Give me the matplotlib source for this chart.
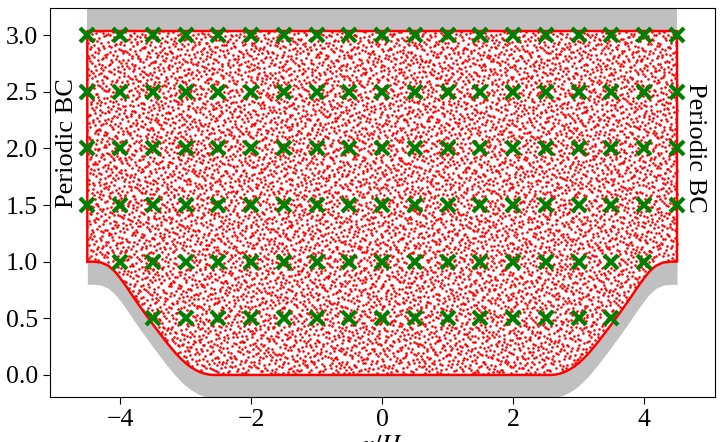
import numpy as np
import matplotlib
matplotlib.use('Agg')
import matplotlib.pyplot as plt

plt.rcParams['font.family'] = ['Liberation Serif', 'DejaVu Serif']
plt.rcParams['mathtext.fontset'] = 'stix'

# hill profile measured from the crest (x/H offset, y/H)
hill_dx = [0.0, 0.107, 0.214, 0.321, 0.393, 0.446, 0.5, 0.571, 0.643, 0.714,
           0.786, 0.857, 0.929, 1.0, 1.071, 1.143, 1.214, 1.286, 1.357, 1.429,
           1.5, 1.571, 1.643, 1.714, 1.786, 1.857, 1.929]
hill_y = [1.0, 1.0, 0.992, 0.964, 0.929, 0.896, 0.857, 0.800, 0.740, 0.679,
          0.619, 0.561, 0.504, 0.448, 0.393, 0.339, 0.285, 0.234, 0.186, 0.143,
          0.105, 0.073, 0.047, 0.026, 0.012, 0.003, 0.0]
x_left, x_right = -4.5, 4.5
y_top = 3.036
wall = 0.2

# green sensor rows: y level and half-width of the row
row_y = [0.5, 1.0, 1.5, 2.0, 2.5, 3.0]
row_half = [3.5, 4.0, 4.5, 4.5, 4.5, 4.5]
row_step = 0.5

n_points = 11000


def halton(i, base):
    f, r = 1.0, 0.0
    while i > 0:
        f /= base
        r += f * (i % base)
        i //= base
    return r


# bottom boundary: left hill, flat floor, right hill
dx = np.array(hill_dx)
hy = np.array(hill_y)
bx = np.concatenate([x_left + dx, (x_right - dx)[::-1]])
by = np.concatenate([hy, hy[::-1]])

fig = plt.figure(figsize=(7.21, 4.42), dpi=100)
ax = fig.add_axes([0.0693, 0.1018, 0.9224, 0.8802])

# grey walls
ax.fill_between(bx, by - wall, by, color='#c0c0c0', lw=0, zorder=1)
ax.fill_between([x_left, x_right], y_top, 3.5, color='#c0c0c0', lw=0, zorder=1)

# collocation points
px = np.array([halton(i, 2) for i in range(1, n_points + 1)])
py = np.array([halton(i, 3) for i in range(1, n_points + 1)])
px = x_left + px * (x_right - x_left)
py = py * y_top
keep = py > np.interp(px, bx, by) + 0.01
ax.scatter(px[keep], py[keep], s=3.6, c='red', marker='o', linewidths=0, zorder=2)

# fluid domain outline
ox = np.concatenate([bx, [x_right, x_left, x_left]])
oy = np.concatenate([by, [y_top, y_top, by[0]]])
ax.plot(ox, oy, color='red', lw=1.8, zorder=3)

# sensors
for yy, hw in zip(row_y, row_half):
    xs = np.arange(-hw, hw + 1e-9, row_step)
    ax.plot(xs, np.full_like(xs, yy), ls='none', marker='x', color='green',
            ms=10, mew=3, zorder=4)

ax.text(-4.81, 2.05, 'Periodic BC', rotation=90, ha='center', va='center', fontsize=19)
ax.text(4.78, 2.0, 'Periodic BC', rotation=270, ha='center', va='center', fontsize=19)

ax.set_xlim(-5.07, 5.08)
ax.set_ylim(-0.195, 3.24)
ax.set_xticks([-4, -2, 0, 2, 4])
ax.set_yticks([0.0, 0.5, 1.0, 1.5, 2.0, 2.5, 3.0])
ax.set_yticklabels(['0.0', '0.5', '1.0', '1.5', '2.0', '2.5', '3.0'])
ax.tick_params(labelsize=18.5, length=5)
ax.set_xlabel(r'$x/H$', fontsize=19)
ax.set_ylabel(r'$y/H$', fontsize=19)

fig.savefig('out.png', dpi=100)
